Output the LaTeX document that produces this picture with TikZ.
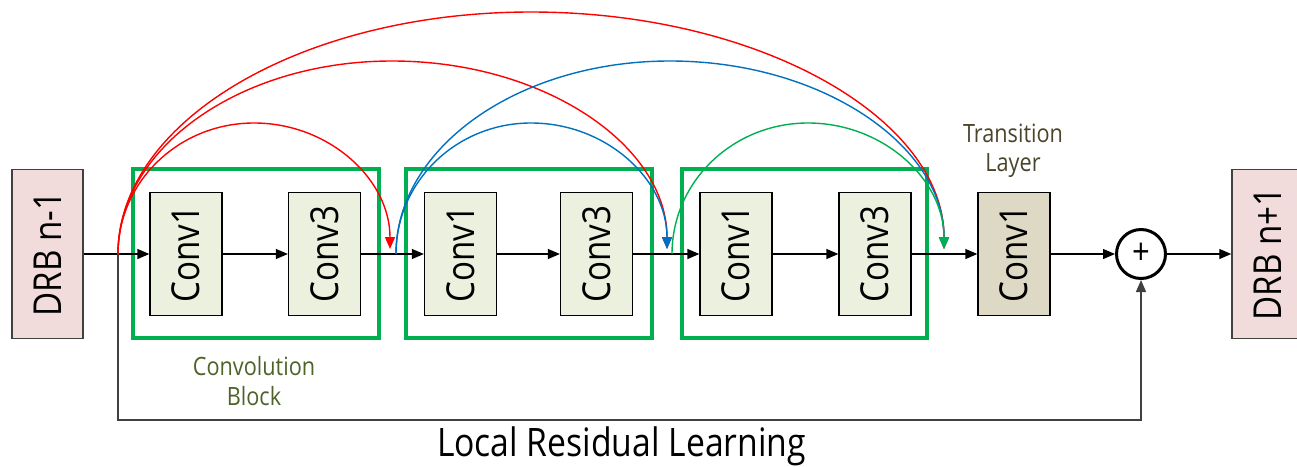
\documentclass[tikz,border=0pt]{standalone}
\usepackage{fontspec}
\usepackage{graphicx}
\setmainfont{Open Sans}[FakeStretch=0.86]
\usetikzlibrary{arrows.meta}
\definecolor{drbfill}{HTML}{F2DCDB}
\definecolor{convfill}{HTML}{EBF1DE}
\definecolor{transfill}{HTML}{DDD9C4}
\definecolor{blockgreen}{HTML}{00B050}
\definecolor{skipred}{HTML}{FF0000}
\definecolor{skipblue}{HTML}{0070C0}
\definecolor{skipgreen}{HTML}{00B050}
\definecolor{labelolive}{HTML}{4F6228}
\definecolor{labeltan}{HTML}{4A452A}
\definecolor{edgegray}{HTML}{404040}
\begin{document}
\begin{tikzpicture}[x=1pt,y=-1pt,
  tip/.style={-{Triangle[length=12pt,width=10pt]}},
  convbox/.style={draw=black, line width=1.3pt, fill=convfill, minimum width=72pt, minimum height=123pt, inner sep=0pt, font=\fontsize{38.5}{40}\selectfont},
  transbox/.style={convbox, fill=transfill},
  drbbox/.style={draw=edgegray, line width=1.5pt, fill=drbfill, minimum width=71pt, minimum height=169pt, inner sep=0pt, font=\fontsize{38.5}{40}\selectfont},
  blockbox/.style={draw=blockgreen, line width=4pt},
  flow/.style={tip, draw=black, line width=1.3pt},
  skipline/.style={tip, line width=1.4pt},
  residual/.style={tip, draw=edgegray, line width=1.5pt},
  smalllabel/.style={align=center, font=\fontsize{25.2}{29.5}\selectfont, inner sep=0pt}
]
\useasboundingbox (0,0) rectangle (1297,466);

% convolution block frames
\draw[blockbox] (133,169) rectangle (379,338);
\draw[blockbox] (406,169) rectangle (652,338);
\draw[blockbox] (682,169) rectangle (927,338);

% nodes
\node[drbbox] (drbin) at (47.5,254) {\rotatebox{90}{DRB n-1}};
\node[convbox] (c11) at (186,254) {\rotatebox{90}{Conv1}};
\node[convbox] (c13) at (324.5,254) {\rotatebox{90}{Conv3}};
\node[convbox] (c21) at (460.5,254) {\rotatebox{90}{Conv1}};
\node[convbox] (c23) at (596.5,254) {\rotatebox{90}{Conv3}};
\node[convbox] (c31) at (736,254) {\rotatebox{90}{Conv1}};
\node[convbox] (c33) at (875,254) {\rotatebox{90}{Conv3}};
\node[transbox] (tr) at (1014,254) {\rotatebox{90}{Conv1}};
\node[circle, draw=black, line width=3pt, minimum size=49pt, inner sep=0pt, font=\fontsize{36}{36}\selectfont] (plus) at (1141,254) {+};
\node[drbbox] (drbout) at (1267.5,254) {\rotatebox{90}{DRB n+1}};

% labels
\node[smalllabel, text=labeltan] (trlabel) at (1013,151) {Transition\\Layer};
\node[smalllabel, text=labelolive] (cblabel) at (254,381) {Convolution\\Block};
\node[anchor=base, inner sep=0pt, font=\fontsize{39.2}{40}\selectfont] (lrl) at (621.5,456) {Local Residual Learning};

% junctions and arc points
\coordinate (j0) at (118,254);
\coordinate (j1) at (396,254);
\coordinate (j2) at (672,254);
\coordinate (e1) at (390,249);
\coordinate (e2) at (667,249);
\coordinate (e3) at (944,249);
\coordinate (pr1) at (254,123);
\coordinate (pr2) at (392,61);
\coordinate (pr3) at (531,12);
\coordinate (pb1) at (531,123);
\coordinate (pb2) at (670,61);
\coordinate (pg1) at (808,123);
\coordinate (rb1) at (118,420);
\coordinate (rb2) at (1141,420);

% main flow
\draw[flow] (drbin.east) -- (c11.west);
\draw[flow] (c11.east) -- (c13.west);
\draw[flow] (c13.east) -- (c21.west);
\draw[flow] (c21.east) -- (c23.west);
\draw[flow] (c23.east) -- (c31.west);
\draw[flow] (c31.east) -- (c33.west);
\draw[flow] (c33.east) -- (tr.west);
\draw[flow] (tr.east) -- (plus.west);
\draw[flow] (plus.east) -- (drbout.west);

% residual
\draw[residual] (j0) -- (rb1) -- (rb2) -- (plus.south);

% dense skip arcs
\draw[skipline, skipred] (j0) .. controls +(0,-133.7) and +(-228.1,0) .. (pr3) .. controls +(228.1,0) and +(0,-130.9) .. (e3);
\draw[skipline, skipred] (j0) .. controls +(0,-106.6) and +(-151.3,0) .. (pr2) .. controls +(151.9,0) and +(0,-103.8) .. (e2);
\draw[skipline, skipred] (j0) .. controls +(0,-72.4) and +(-75.1,0) .. (pr1) .. controls +(75.1,0) and +(0,-69.6) .. (e1);
\draw[skipline, skipblue] (j1) .. controls +(0,-106.6) and +(-151.3,0) .. (pb2) .. controls +(151.3,0) and +(0,-103.8) .. (e3);
\draw[skipline, skipblue] (j1) .. controls +(0,-72.4) and +(-74.6,0) .. (pb1) .. controls +(75.1,0) and +(0,-69.6) .. (e2);
\draw[skipline, skipgreen] (j2) .. controls +(0,-72.4) and +(-75.1,0) .. (pg1) .. controls +(75.1,0) and +(0,-69.6) .. (e3);
\end{tikzpicture}
\end{document}
